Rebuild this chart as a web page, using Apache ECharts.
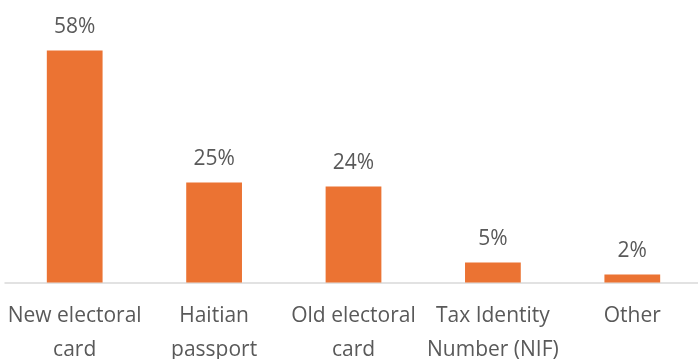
<!DOCTYPE html>
<html><head><meta charset="utf-8">
<script src="https://cdn.jsdelivr.net/npm/echarts@6/dist/echarts.min.js"></script>
<style>html,body{margin:0;padding:0;background:#fff}#c{width:698px;height:359px}</style>
</head><body><div id="c"></div>
<script>
const categories = ["New electoral\ncard", "Haitian\npassport", "Old electoral\ncard", "Tax Identity\nNumber (NIF)", "Other"];
const values = [58, 25, 24, 5, 2];
const chart = echarts.init(document.getElementById('c'), null, {renderer: 'canvas'});
const font = "'Open Sans', 'Noto Sans', sans-serif";
chart.setOption({
  animation: false,
  grid: {left: 5, top: 42.6, width: 697, bottom: 76.4, containLabel: false, outerBoundsMode: 'none'},
  xAxis: {
    type: 'category', data: categories,
    axisLine: {lineStyle: {color: '#d9d9d9', width: 1.5}},
    axisTick: {show: false},
    axisLabel: {color: '#595959', fontSize: 21, fontFamily: font, lineHeight: 34, margin: 16, interval: 0}
  },
  yAxis: {type: 'value', min: 0, max: 60, show: false, splitLine: {show: false}},
  series: [{
    type: 'bar', data: values, barWidth: '40%',
    itemStyle: {color: '#EB7333'},
    label: {show: true, position: 'top', distance: 13, formatter: '{c}%', color: '#595959', fontSize: 21, fontFamily: font}
  }]
});
</script></body></html>
